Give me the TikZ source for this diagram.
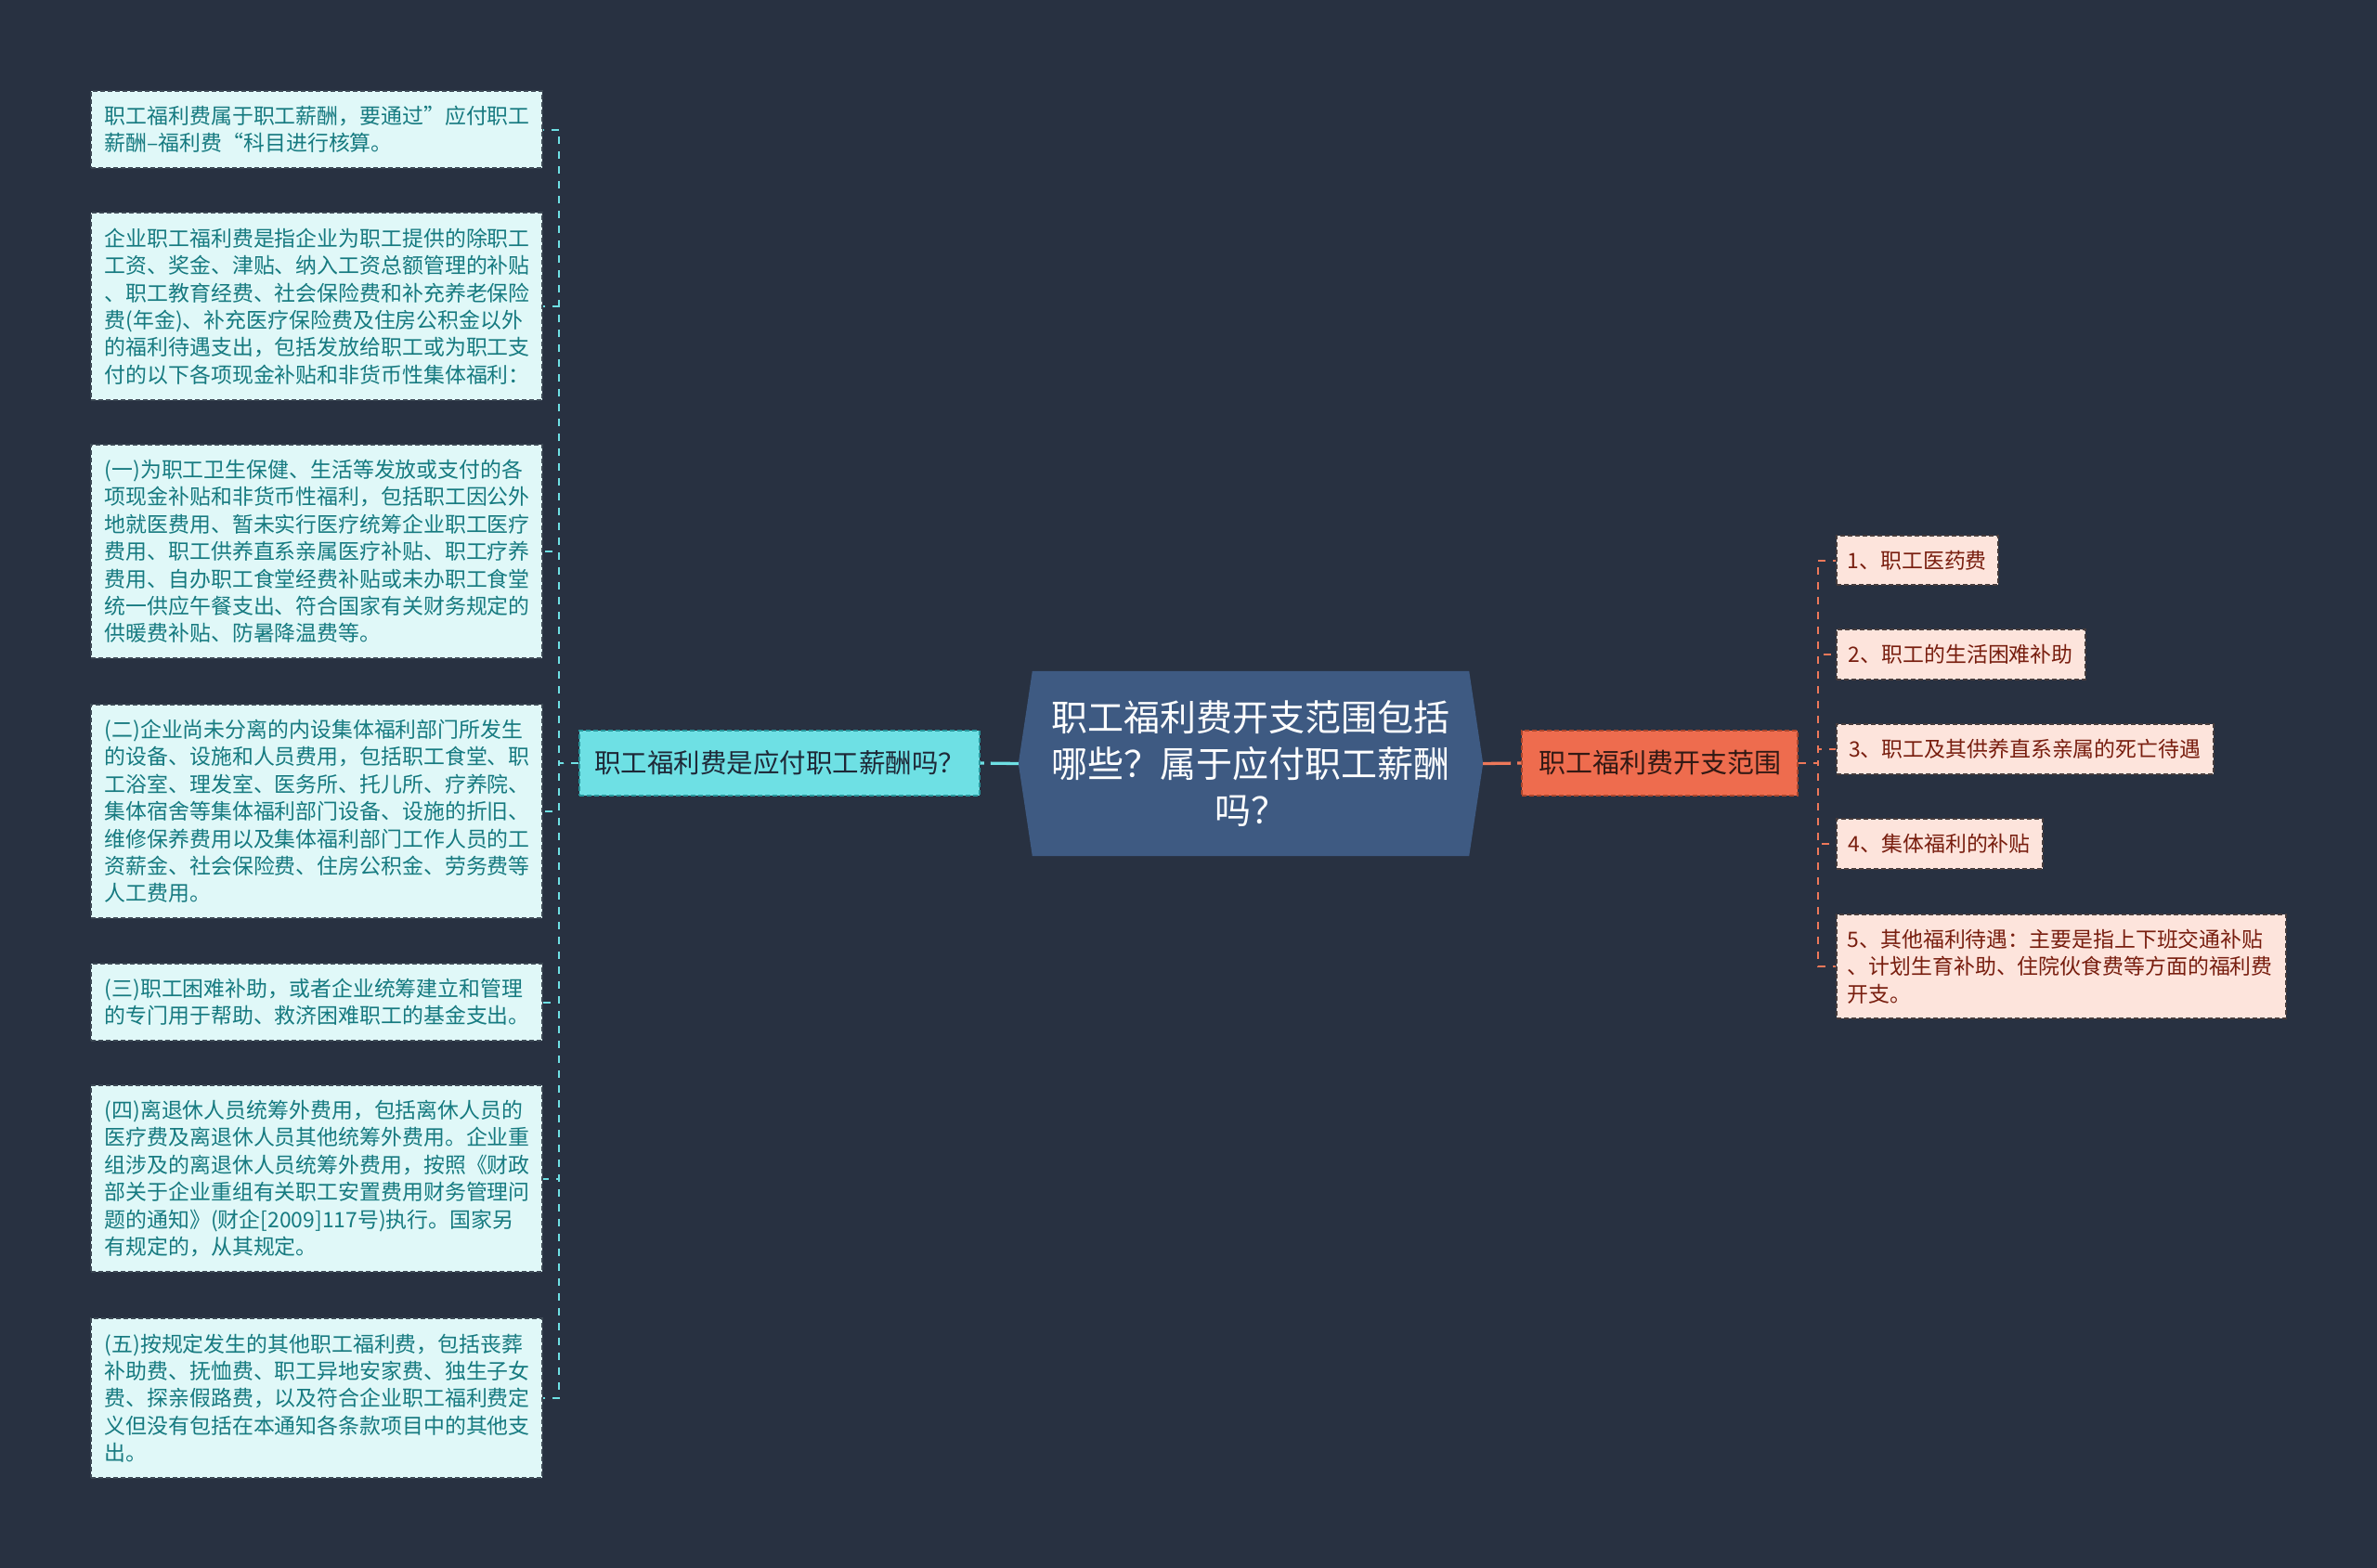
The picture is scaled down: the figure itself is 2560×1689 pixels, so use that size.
\documentclass[tikz,border=0pt]{standalone}
\usepackage{fontspec}
\setmainfont{Noto Sans CJK SC}
\pgfdeclarelayer{bg}
\pgfsetlayers{bg,main}
\definecolor{bgc}{RGB}{40,49,65}
\definecolor{lfill}{RGB}{224,248,248}
\definecolor{ltext}{RGB}{22,122,128}
\definecolor{lbord}{RGB}{60,72,84}
\definecolor{cyanfill}{RGB}{110,224,228}
\definecolor{cyanbord}{RGB}{40,150,156}
\definecolor{cyantext}{RGB}{30,40,55}
\definecolor{rootfill}{RGB}{62,90,130}
\definecolor{orfill}{RGB}{238,108,78}
\definecolor{orbord}{RGB}{170,70,45}
\definecolor{ortext}{RGB}{50,25,20}
\definecolor{pfill}{RGB}{253,228,220}
\definecolor{ptext}{RGB}{120,30,15}
\definecolor{pbord}{RGB}{70,60,60}
\definecolor{cyanline}{RGB}{110,224,228}
\definecolor{orline}{RGB}{238,120,90}
\tikzset{
  leftbox/.style={draw=lbord, line width=1.5pt, dash pattern=on 5pt off 3pt, fill=lfill, text=ltext,
    font=\fontsize{22.9}{29.4}\selectfont, align=left, text width=456pt, inner xsep=15pt, inner ysep=0pt, anchor=west},
  itembox/.style={draw=pbord, line width=1.5pt, dash pattern=on 5pt off 3pt, fill=pfill, text=ptext,
    font=\fontsize{22.9}{29.4}\selectfont, align=left, inner xsep=12pt, inner ysep=0pt, anchor=west},
  cyannode/.style={draw=cyanbord, line width=1.5pt, dash pattern=on 5pt off 3pt, fill=cyanfill, text=cyantext,
    font=\fontsize{28.5}{34}\selectfont, inner sep=0pt, minimum width=431pt, minimum height=70pt},
  ornode/.style={draw=orbord, line width=1.5pt, dash pattern=on 5pt off 3pt, fill=orfill, text=ortext,
    font=\fontsize{29}{34}\selectfont, inner sep=0pt, minimum width=297pt, minimum height=70pt},
  rootnode/.style={text=white, font=\fontsize{39}{50}\selectfont, align=center, inner sep=0pt,
    minimum width=500pt, minimum height=199pt},
  mainconnL/.style={draw=cyanline, line width=3.3pt, dash pattern=on 30pt off 7pt},
  mainconnR/.style={draw=orline, line width=3.3pt, dash pattern=on 30pt off 7pt},
  treeL/.style={draw=cyanline, line width=2pt, dash pattern=on 8pt off 8pt},
  treeR/.style={draw=orline, line width=2pt, dash pattern=on 8pt off 8pt},
}
\begin{document}
\begin{tikzpicture}[x=1pt,y=-1pt]
\begin{pgfonlayer}{bg}
\fill[bgc] (0,0) rectangle (2560,1689);
\end{pgfonlayer}
\useasboundingbox (0,0) rectangle (2560,1689);

% root
\node[rootnode] (root) at (1347,822.5) {职工福利费开支范围包括\\哪些？属于应付职工薪酬\\吗？};
\begin{pgfonlayer}{bg}
\fill[rootfill] (root.west) -- ([xshift=15pt]root.north west) -- ([xshift=-15pt]root.north east)
  -- (root.east) -- ([xshift=-15pt]root.south east) -- ([xshift=15pt]root.south west) -- cycle;
\end{pgfonlayer}

% level 1
\node[cyannode] (q) at (839.5,822) {职工福利费是应付职工薪酬吗？};
\node[ornode] (scope) at (1787.5,822) {职工福利费开支范围};

% left boxes
\node[leftbox, minimum height=83pt] (b1) at (97,139.5) {职工福利费属于职工薪酬，要通过”应付职工\\薪酬–福利费“科目进行核算。};
\node[leftbox, minimum height=202pt] (b2) at (97,330) {企业职工福利费是指企业为职工提供的除职工\\工资、奖金、津贴、纳入工资总额管理的补贴\\、职工教育经费、社会保险费和补充养老保险\\费(年金)、补充医疗保险费及住房公积金以外\\的福利待遇支出，包括发放给职工或为职工支\\付的以下各项现金补贴和非货币性集体福利：};
\node[leftbox, minimum height=230pt] (b3) at (97,594) {(一)为职工卫生保健、生活等发放或支付的各\\项现金补贴和非货币性福利，包括职工因公外\\地就医费用、暂未实行医疗统筹企业职工医疗\\费用、职工供养直系亲属医疗补贴、职工疗养\\费用、自办职工食堂经费补贴或未办职工食堂\\统一供应午餐支出、符合国家有关财务规定的\\供暖费补贴、防暑降温费等。};
\node[leftbox, minimum height=230pt] (b4) at (97,874) {(二)企业尚未分离的内设集体福利部门所发生\\的设备、设施和人员费用，包括职工食堂、职\\工浴室、理发室、医务所、托儿所、疗养院、\\集体宿舍等集体福利部门设备、设施的折旧、\\维修保养费用以及集体福利部门工作人员的工\\资薪金、社会保险费、住房公积金、劳务费等\\人工费用。};
\node[leftbox, minimum height=83pt] (b5) at (97,1079.5) {(三)职工困难补助，或者企业统筹建立和管理\\的专门用于帮助、救济困难职工的基金支出。};
\node[leftbox, minimum height=201pt] (b6) at (97,1269.5) {(四)离退休人员统筹外费用，包括离休人员的\\医疗费及离退休人员其他统筹外费用。企业重\\组涉及的离退休人员统筹外费用，按照《财政\\部关于企业重组有关职工安置费用财务管理问\\题的通知》(财企[2009]117号)执行。国家另\\有规定的，从其规定。};
\node[leftbox, minimum height=172pt] (b7) at (97,1506) {(五)按规定发生的其他职工福利费，包括丧葬\\补助费、抚恤费、职工异地安家费、独生子女\\费、探亲假路费，以及符合企业职工福利费定\\义但没有包括在本通知各条款项目中的其他支\\出。};

% right items
\node[itembox, minimum width=171pt, minimum height=53pt] (i1) at (1977,603.5) {1、职工医药费};
\node[itembox, minimum width=268pt, minimum height=54pt] (i2) at (1977,705) {2、职工的生活困难补助};
\node[itembox, minimum width=406pt, minimum height=54pt] (i3) at (1977,807) {3、职工及其供养直系亲属的死亡待遇};
\node[itembox, minimum width=222pt, minimum height=54pt] (i4) at (1977,909) {4、集体福利的补贴};
\node[itembox, text width=460pt, minimum height=112pt] (i5) at (1977,1041) {5、其他福利待遇：主要是指上下班交通补贴\\、计划生育补助、住院伙食费等方面的福利费\\开支。};

% main connectors
\draw[mainconnL] (root.west) -- (q.east);
\draw[mainconnR] (root.east) -- (scope.west);

% left tree
\foreach \b in {b1,b2,b3,b4,b5,b6,b7}
  \draw[treeL] (q.west) -- ++(-21,0) |- (\b.east);

% right tree
\foreach \i in {i1,i2,i3,i4,i5}
  \draw[treeR] (scope.east) -- ++(21,0) |- (\i.west);
\end{tikzpicture}
\end{document}
